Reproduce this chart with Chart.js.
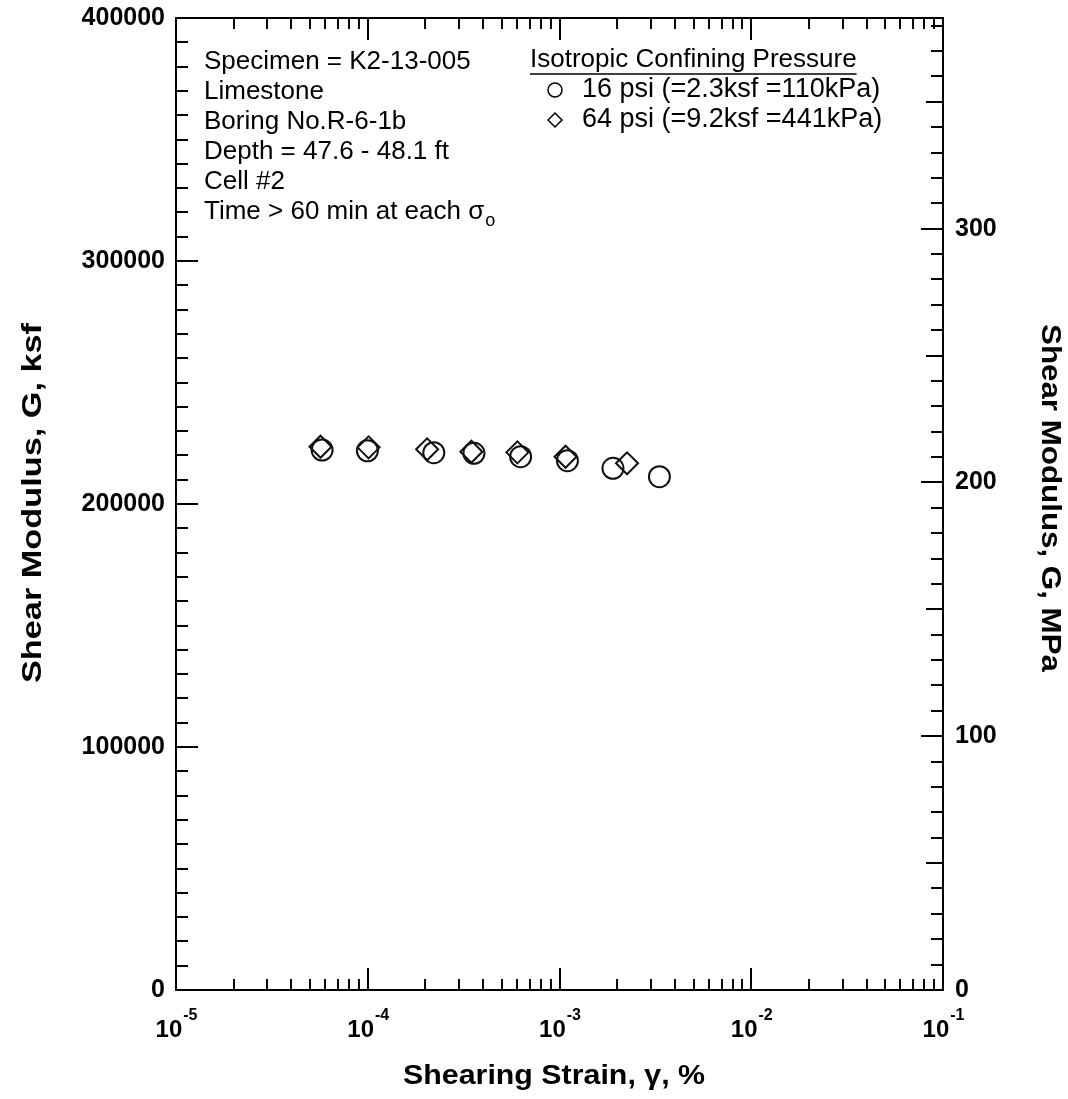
<!DOCTYPE html>
<html>
<head>
<meta charset="utf-8">
<script src="https://cdn.jsdelivr.net/npm/chart.js@4.4.0/dist/chart.umd.min.js"></script>
<style>
  html, body { margin: 0; padding: 0; background: #fff; }
</style>
</head>
<body>
<canvas id="shearChart" width="1068" height="1099"></canvas>
<script>
// values
const strain16 = [5.78e-5, 9.96e-5, 2.21e-4, 3.58e-4, 6.27e-4, 1.10e-3, 1.90e-3, 3.32e-3];
const modulus16 = [222200, 221900, 221100, 220850, 219460, 217810, 214680, 211220];
const strain64 = [5.67e-5, 1.01e-4, 2.04e-4, 3.47e-4, 6.03e-4, 1.075e-3, 2.25e-3];
const modulus64 = [223570, 223320, 222500, 221510, 221260, 219460, 216740];

const xDecades = [1e-5, 1e-4, 1e-3, 1e-2, 1e-1];
const xExponents = ['-5', '-4', '-3', '-2', '-1'];
const ksfTicks = [0, 100000, 200000, 300000, 400000];
const mpaTicks = [0, 100, 200, 300];

const specimenNotes = ['Specimen = K2-13-005', 'Limestone', 'Boring No.R-6-1b',
  'Depth = 47.6 - 48.1 ft', 'Cell #2', 'Time > 60 min at each \u03c3'];
const legendTitle = 'Isotropic Confining Pressure';
const seriesNames = ['16 psi (=2.3ksf =110kPa)', '64 psi (=9.2ksf =441kPa)'];

const FONT = '"Liberation Sans", Arial, sans-serif';

function toPoints(xs, ys) {
  return xs.map((x, i) => ({ x: x, y: ys[i] }));
}

// text drawn at a given size, stretched along its run to a given length
function fitText(ctx, text, x, y, angle, size, length) {
  ctx.save();
  ctx.font = 'bold ' + size + 'px ' + FONT;
  const w = ctx.measureText(text).width;
  ctx.translate(x, y);
  ctx.rotate(angle);
  ctx.scale(length / w, 1);
  ctx.textAlign = 'center';
  ctx.textBaseline = 'middle';
  ctx.fillText(text, 0, 0);
  ctx.restore();
}

// inward ticks, frame, labels and notes
const frameAndText = {
  id: 'frameAndText',
  afterDraw(chart) {
    const ctx = chart.ctx;
    const a = chart.chartArea;
    const sx = chart.scales.x, sy = chart.scales.y, sy2 = chart.scales.y2;
    ctx.save();
    ctx.strokeStyle = '#000';
    ctx.lineWidth = 2;
    ctx.strokeRect(a.left, a.top, a.right - a.left, a.bottom - a.top);

    ctx.beginPath();
    for (let d = 0; d < xDecades.length - 1; d++) {
      for (let m = 1; m <= 9; m++) {
        const px = Math.round(sx.getPixelForValue(xDecades[d] * m));
        const len = m === 1 ? 22 : 11;
        ctx.moveTo(px, a.bottom); ctx.lineTo(px, a.bottom - len);
        ctx.moveTo(px, a.top); ctx.lineTo(px, a.top + len);
      }
    }
    for (let v = 0; v <= 400000; v += 10000) {
      const py = Math.round(sy.getPixelForValue(v));
      const len = v % 100000 === 0 ? 22 : 12;
      ctx.moveTo(a.left, py); ctx.lineTo(a.left + len, py);
    }
    for (let v = 0; v <= 380; v += 10) {
      const py = Math.round(sy2.getPixelForValue(v));
      const len = v % 100 === 0 ? 22 : (v % 50 === 0 ? 17 : 12);
      ctx.moveTo(a.right, py); ctx.lineTo(a.right - len, py);
    }
    ctx.stroke();

    // x tick labels with superscripts
    ctx.fillStyle = '#000';
    ctx.textBaseline = 'alphabetic';
    xDecades.forEach((v, i) => {
      const px = sx.getPixelForValue(v);
      ctx.font = 'bold 24px ' + FONT;
      const wb = ctx.measureText('10').width;
      ctx.font = 'bold 16px ' + FONT;
      const we = ctx.measureText(xExponents[i]).width;
      const x0 = px - (wb + we) / 2;
      ctx.font = 'bold 24px ' + FONT;
      ctx.textAlign = 'left';
      ctx.fillText('10', x0, 1037);
      ctx.font = 'bold 16px ' + FONT;
      ctx.fillText(xExponents[i], x0 + wb + 1, 1020);
    });

    // axis titles
    fitText(ctx, 'Shearing Strain, \u03b3, %', 554, 1077, 0, 27, 302);
    fitText(ctx, 'Shear Modulus, G, ksf', 33, 503, -Math.PI / 2, 28, 360);
    fitText(ctx, 'Shear Modulus, G, MPa', 1050, 498, Math.PI / 2, 28, 348);

    // specimen notes
    ctx.font = '26px ' + FONT;
    ctx.textAlign = 'left';
    ctx.textBaseline = 'middle';
    specimenNotes.forEach((t, i) => {
      ctx.fillText(t, 204, 62 + i * 30);
      if (i === specimenNotes.length - 1) {
        const w = ctx.measureText(t).width;
        ctx.font = '18px ' + FONT;
        ctx.fillText('o', 204 + w + 1, 62 + i * 30 + 9);
        ctx.font = '26px ' + FONT;
      }
    });

    // legend
    ctx.fillText(legendTitle, 530, 60);
    const tw = ctx.measureText(legendTitle).width;
    ctx.lineWidth = 1.5;
    ctx.beginPath();
    ctx.moveTo(530, 74); ctx.lineTo(530 + tw, 74);
    ctx.stroke();
    ctx.font = '27px ' + FONT;
    seriesNames.forEach((t, i) => ctx.fillText(t, 582, 90 + i * 30));
    ctx.beginPath();
    ctx.arc(555, 90, 7, 0, Math.PI * 2);
    ctx.stroke();
    ctx.beginPath();
    ctx.moveTo(548, 120); ctx.lineTo(555, 113); ctx.lineTo(562, 120); ctx.lineTo(555, 127);
    ctx.closePath();
    ctx.stroke();
    ctx.restore();
  }
};

const ctx = document.getElementById('shearChart').getContext('2d');

new Chart(ctx, {
  type: 'scatter',
  data: {
    datasets: [{
      label: seriesNames[0],
      data: toPoints(strain16, modulus16),
      pointStyle: 'circle',
      pointRadius: 10.5,
      pointHoverRadius: 10.5,
      borderColor: '#111',
      backgroundColor: 'rgba(0,0,0,0)',
      pointBorderWidth: 2,
      yAxisID: 'y'
    }, {
      label: seriesNames[1],
      data: toPoints(strain64, modulus64),
      pointStyle: 'rectRot',
      pointRadius: 11,
      pointHoverRadius: 11,
      borderColor: '#111',
      backgroundColor: 'rgba(0,0,0,0)',
      pointBorderWidth: 2,
      yAxisID: 'y'
    }]
  },
  options: {
    responsive: false,
    animation: false,
    devicePixelRatio: 1,
    layout: { padding: { top: 18, left: 0, right: 0, bottom: 0 } },
    plugins: {
      legend: { display: false },
      tooltip: { enabled: false }
    },
    scales: {
      x: {
        type: 'logarithmic',
        position: 'bottom',
        min: 1e-5,
        max: 1e-1,
        grid: { display: false },
        border: { display: false },
        ticks: { display: false },
        afterFit: s => { s.height = 109; }
      },
      y: {
        type: 'linear',
        position: 'left',
        min: 0,
        max: 400000,
        grid: { display: false, drawTicks: false },
        border: { display: false },
        afterBuildTicks: s => { s.ticks = ksfTicks.map(v => ({ value: v })); },
        ticks: {
          color: '#000',
          padding: 11,
          font: { family: FONT, size: 25, weight: 'bold' },
          callback: v => String(v)
        },
        afterFit: s => { s.width = 176; s.paddingTop = 0; s.paddingBottom = 0; }
      },
      y2: {
        type: 'linear',
        position: 'right',
        min: 0,
        max: 383,
        grid: { display: false, drawTicks: false },
        border: { display: false },
        afterBuildTicks: s => { s.ticks = mpaTicks.map(v => ({ value: v })); },
        ticks: {
          color: '#000',
          padding: 12,
          font: { family: FONT, size: 25, weight: 'bold' },
          callback: v => String(v)
        },
        afterFit: s => { s.width = 125; s.paddingTop = 0; s.paddingBottom = 0; }
      }
    }
  },
  plugins: [frameAndText]
});
</script>
</body>
</html>
